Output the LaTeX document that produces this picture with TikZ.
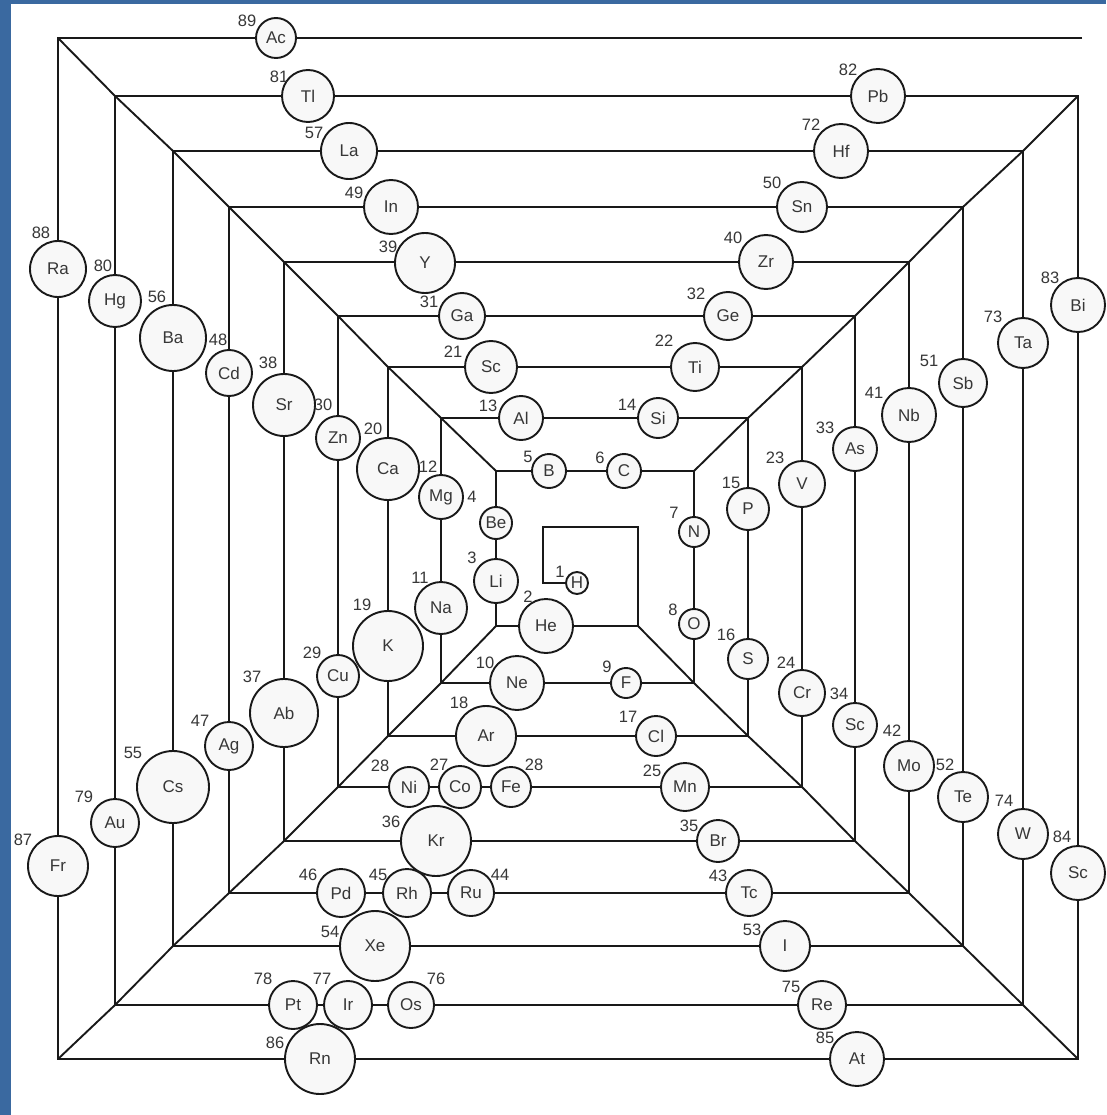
\documentclass[tikz,border=0pt]{standalone}
\usepackage{fontspec}
\setmainfont{Liberation Sans}
\usetikzlibrary{backgrounds}
\definecolor{bgblue}{RGB}{58,105,160}
\definecolor{circfill}{RGB}{248,248,248}
\definecolor{txt}{RGB}{55,55,55}
\tikzset{
  wire/.style={line width=1.9pt, draw=black!90},
  elem/.style={circle, draw=black!90, line width=1.9pt, fill=circfill, inner sep=0pt,
    minimum size=#1*2pt, text=txt, font=\fontsize{17}{19}\selectfont},
  num/.style={inner sep=0pt, text=txt, font=\fontsize{16.5}{18}\selectfont},
}
\newcommand\El[8]{\node[elem=#4] (#1) at (#2,#3) {#5}; \node[num] (n#1) at (#7,#8) {#6};}
\begin{document}
\begin{tikzpicture}[x=1pt,y=-1pt]
\useasboundingbox (0,0) rectangle (1106,1115);
% elements: top
\El{Ac}{276}{38}{20}{Ac}{89}{247}{21}
\El{Tl}{308}{96}{26}{Tl}{81}{279}{77}
\El{La}{349}{151}{28}{La}{57}{314}{133}
\El{In}{391}{207}{27}{In}{49}{354}{193}
\El{Y}{425}{263}{30}{Y}{39}{388}{247}
\El{Ga}{462}{316}{23}{Ga}{31}{429}{302}
\El{ScA}{491}{367}{26}{Sc}{21}{453}{352}
\El{Al}{521}{418}{22}{Al}{13}{488}{406}
\El{B}{549}{471}{17}{B}{5}{528}{457}
\El{C}{624}{471}{17}{C}{6}{600}{458}
\El{Si}{658}{418}{20}{Si}{14}{627}{405}
\El{Ti}{695}{367}{24}{Ti}{22}{664}{341}
\El{Ge}{728}{316}{24}{Ge}{32}{696}{294}
\El{Zr}{766}{262}{27}{Zr}{40}{733}{238}
\El{Sn}{802}{207}{25}{Sn}{50}{772}{183}
\El{Hf}{841}{151}{27}{Hf}{72}{811}{125}
\El{Pb}{878}{96}{27}{Pb}{82}{848}{70}
% left
\El{Ra}{58}{269}{28}{Ra}{88}{41}{233}
\El{Hg}{115}{301}{26}{Hg}{80}{103}{266}
\El{Ba}{173}{338}{33}{Ba}{56}{157}{297}
\El{Cd}{229}{373}{23}{Cd}{48}{218}{340}
\El{Sr}{284}{405}{31}{Sr}{38}{268}{363}
\El{Zn}{338}{438}{22}{Zn}{30}{323}{405}
\El{Ca}{388}{469}{31}{Ca}{20}{373}{429}
\El{Mg}{441}{497}{22}{Mg}{12}{428}{467}
\El{Be}{496}{523}{16}{Be}{4}{472}{497}
\El{Li}{496}{581}{22}{Li}{3}{472}{558}
\El{Na}{441}{608}{26}{Na}{11}{420}{578}
\El{K}{388}{646}{35}{K}{19}{362}{605}
\El{Cu}{338}{676}{21}{Cu}{29}{312}{653}
\El{Ab}{284}{713}{34}{Ab}{37}{252}{677}
\El{Ag}{229}{746}{24}{Ag}{47}{200}{721}
\El{Cs}{173}{787}{36}{Cs}{55}{133}{753}
\El{Au}{115}{823}{24}{Au}{79}{84}{797}
\El{Fr}{58}{866}{30}{Fr}{87}{23}{840}
% bottom
\El{Rn}{320}{1059}{35}{Rn}{86}{275}{1043}
\El{Pt}{293}{1005}{24}{Pt}{78}{263}{979}
\El{Ir}{348}{1005}{24}{Ir}{77}{322}{979}
\El{Os}{411}{1005}{23}{Os}{76}{436}{979}
\El{Xe}{375}{946}{35}{Xe}{54}{330}{932}
\El{Pd}{341}{893}{24}{Pd}{46}{308}{875}
\El{Rh}{407}{893}{24}{Rh}{45}{378}{875}
\El{Ru}{471}{893}{23}{Ru}{44}{500}{875}
\El{Kr}{436}{841}{35}{Kr}{36}{391}{822}
\El{Ni}{409}{787}{20}{Ni}{28}{380}{766}
\El{Co}{460}{787}{21}{Co}{27}{439}{765}
\El{Fe}{511}{787}{20}{Fe}{28}{534}{765}
\El{Ar}{486}{736}{30}{Ar}{18}{459}{703}
\El{Ne}{517}{683}{27}{Ne}{10}{485}{663}
\El{He}{546}{626}{27}{He}{2}{528}{597}
\El{H}{577}{583}{11}{H}{1}{560}{572}
\El{F}{626}{683}{15}{F}{9}{607}{667}
\El{Cl}{656}{736}{20}{Cl}{17}{628}{717}
\El{Mn}{685}{787}{24}{Mn}{25}{652}{771}
\El{Br}{718}{841}{21}{Br}{35}{689}{826}
\El{Tc}{749}{893}{23}{Tc}{43}{718}{876}
\El{I}{785}{946}{25}{I}{53}{752}{930}
\El{Re}{822}{1005}{24}{Re}{75}{791}{987}
\El{At}{857}{1059}{27}{At}{85}{825}{1038}
% right
\El{N}{694}{532}{15}{N}{7}{674}{513}
\El{O}{694}{624}{15}{O}{8}{673}{610}
\El{P}{748}{509}{21}{P}{15}{731}{483}
\El{S}{748}{659}{20}{S}{16}{726}{635}
\El{V}{802}{484}{23}{V}{23}{775}{458}
\El{Cr}{802}{693}{23}{Cr}{24}{786}{663}
\El{As}{855}{449}{22}{As}{33}{825}{428}
\El{ScB}{855}{725}{22}{Sc}{34}{839}{694}
\El{Nb}{909}{415}{27}{Nb}{41}{874}{393}
\El{Mo}{909}{766}{25}{Mo}{42}{892}{731}
\El{Sb}{963}{383}{24}{Sb}{51}{929}{361}
\El{Te}{963}{797}{25}{Te}{52}{945}{765}
\El{Ta}{1023}{343}{25}{Ta}{73}{993}{317}
\El{W}{1023}{834}{25}{W}{74}{1004}{801}
\El{Bi}{1078}{305}{27}{Bi}{83}{1050}{278}
\El{ScC}{1078}{873}{27}{Sc}{84}{1062}{837}
% spiral corners
\coordinate (start) at (1082,38);
\foreach \i/\l/\t/\r/\b/\tn in {0/58/38/1078/1059/96, 1/115/96/1023/1005/151,
  2/173/151/963/946/207, 3/229/207/909/893/262, 4/284/262/855/841/316,
  5/338/316/802/787/367, 6/388/367/748/736/418, 7/441/418/694/683/471,
  8/496/471/638/626/527}{
  \coordinate (TL\i) at (\l,\t);
  \coordinate (BL\i) at (\l,\b);
  \coordinate (BR\i) at (\r,\b);
  \coordinate (TR\i) at (\r,\tn);
}
\coordinate (in1) at (543,527);
\coordinate (in2) at (543,583);
\begin{scope}[on background layer]
  \fill[bgblue] (0,0) rectangle (1106,1115);
  \fill[white] (11,4) rectangle (1106,1115);
  \draw[wire] (start) \foreach \i in {0,...,8}{ -- (TL\i) -- (BL\i) -- (BR\i) -- (TR\i)} -- (in1) -- (in2) -- (H);
  \draw[wire] (TL0) \foreach \i in {1,...,8}{ -- (TL\i)};
  \draw[wire] (BL0) \foreach \i in {1,...,8}{ -- (BL\i)};
  \draw[wire] (BR0) \foreach \i in {1,...,8}{ -- (BR\i)};
  \draw[wire] (TR0) \foreach \i in {1,...,7}{ -- (TR\i)};
\end{scope}
\end{tikzpicture}
\end{document}
